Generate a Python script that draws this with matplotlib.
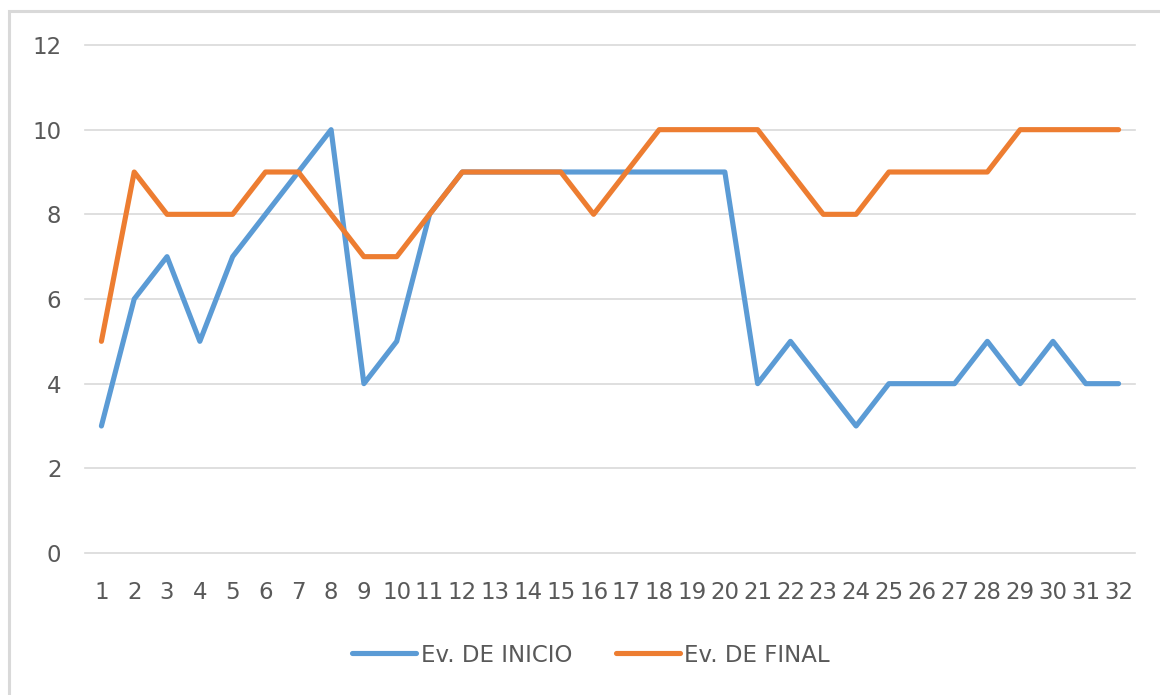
import matplotlib
matplotlib.use("Agg")
import matplotlib.pyplot as plt
from matplotlib.patches import Rectangle

# data
students = list(range(1, 33))
ev_inicio = [3, 6, 7, 5, 7, 8, 9, 10, 4, 5, 8, 9, 9, 9, 9, 9,
             9, 9, 9, 9, 4, 5, 4, 3, 4, 4, 4, 5, 4, 5, 4, 4]
ev_final = [5, 9, 8, 8, 8, 9, 9, 8, 7, 7, 8, 9, 9, 9, 9, 8,
            9, 10, 10, 10, 10, 9, 8, 8, 9, 9, 9, 9, 10, 10, 10, 10]
y_ticks = [0, 2, 4, 6, 8, 10, 12]

blue = '#5B9BD5'
orange = '#ED7D31'
grey_txt = '#595959'
grid_col = '#D9D9D9'


def main():
    plt.rcParams['font.family'] = ['DejaVu Sans']
    fig = plt.figure(figsize=(11.6, 6.95), dpi=100)

    # light frame of the chart area (left and top edges visible)
    fig.patches.append(Rectangle((8.5 / 1160, -0.1), 1.2, 1.1 - 11.5 / 695,
                                 transform=fig.transFigure, fill=False,
                                 edgecolor=grid_col, linewidth=2.2))

    ax = fig.add_axes([85 / 1160, 1 - 553 / 695, (1135 - 85) / 1160, (553 - 45) / 695])

    ax.plot(students, ev_inicio, color=blue, lw=3.7, label='Ev. DE INICIO',
            solid_capstyle='round', solid_joinstyle='round', zorder=3)
    ax.plot(students, ev_final, color=orange, lw=3.7, label='Ev. DE FINAL',
            solid_capstyle='round', solid_joinstyle='round', zorder=3)

    ax.set_xlim(0.5, 32.5)
    ax.set_ylim(0, 12)
    ax.set_yticks(y_ticks)
    ax.set_xticks(students)
    ax.set_xticklabels([str(s) for s in students])

    # horizontal gridlines, drawn unclipped so 0 and 12 are full width
    for g in ax.yaxis.get_gridlines():
        g.set_clip_on(False)
    ax.grid(axis='y', color=grid_col, linewidth=1.2)
    for g in ax.yaxis.get_gridlines():
        g.set_clip_on(False)
    ax.set_axisbelow(True)
    for s in ax.spines.values():
        s.set_visible(False)
    ax.tick_params(axis='both', length=0, labelsize=16.5, labelcolor=grey_txt)
    ax.tick_params(axis='y', pad=17)
    ax.tick_params(axis='x', pad=20)

    fig.legend(loc='center', bbox_to_anchor=(591 / 1160, 1 - 655 / 695),
               ncol=2, frameon=False, fontsize=16.5, labelcolor=grey_txt,
               handlelength=2.8, handletextpad=0.2, columnspacing=1.9)

    fig.savefig('out.png', dpi=100)


if __name__ == '__main__':
    main()
